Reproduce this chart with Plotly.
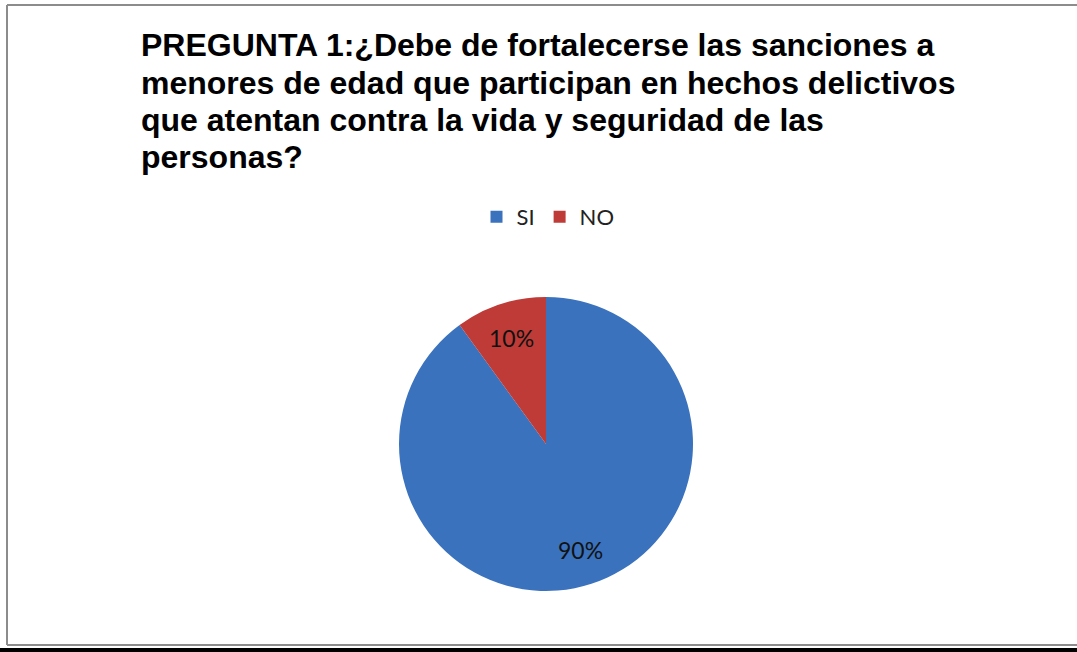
import math
import plotly.graph_objects as go

W, H = 1077, 652

labels = ["SI", "NO"]
values = [90, 10]
colors = ["#3a72bd", "#be3b37"]
title_lines = [
    "PREGUNTA 1:¿Debe de fortalecerse las sanciones a",
    "menores de edad que participan en hechos delictivos",
    "que atentan contra la vida y seguridad de las",
    "personas?",
]

def px(x):
    return x / W

def py(y):
    return 1 - y / H

cx, cy, r = 546, 444, 147

fig = go.Figure(
    go.Pie(
        labels=labels,
        values=values,
        sort=False,
        direction="clockwise",
        rotation=0,
        marker=dict(colors=colors, line=dict(width=0)),
        textinfo="none",
        domain=dict(x=[px(cx - r), px(cx + r)], y=[py(cy + r), py(cy - r)]),
        hoverinfo="label+percent",
    )
)

# percentage labels placed along each slice's mid-angle (derived from the data)
annotations = []
total = sum(values)
start = 0.0
for lab, v in zip(labels, values):
    frac = v / total
    mid = (start + frac / 2) * 2 * math.pi
    start += frac
    lx = cx + 0.76 * r * math.sin(mid)
    ly = cy - 0.76 * r * math.cos(mid)
    annotations.append(dict(
        text=f"{round(frac * 100)}%", x=px(lx), y=py(ly), xref="paper", yref="paper",
        xanchor="center", yanchor="middle", showarrow=False,
        font=dict(family="Lato, Open Sans, sans-serif", size=23, color="#111111"),
    ))

title_y = [45, 82.5, 120, 157]
for line, yy in zip(title_lines, title_y):
    annotations.append(dict(
        text=line, x=px(139), y=py(yy), xref="paper", yref="paper",
        xanchor="left", yanchor="middle", showarrow=False,
        font=dict(family="Liberation Sans, Arial, sans-serif", size=32, color="#000000", weight="bold"),
    ))

shapes = [
    dict(type="line", xref="paper", yref="paper", x0=px(7), x1=px(W + 5), y0=py(5), y1=py(5),
         line=dict(color="#8c8c8c", width=2)),
    dict(type="line", xref="paper", yref="paper", x0=px(7), x1=px(7), y0=py(5), y1=py(645),
         line=dict(color="#8c8c8c", width=2)),
    dict(type="line", xref="paper", yref="paper", x0=px(7), x1=px(W + 5), y0=py(645), y1=py(645),
         line=dict(color="#8c8c8c", width=2)),
    dict(type="rect", xref="paper", yref="paper", x0=px(0), x1=px(W + 5), y0=py(648), y1=py(H + 5),
         fillcolor="#000000", line=dict(width=0)),
]

fig.update_layout(
    width=W,
    height=H,
    margin=dict(l=0, r=0, t=0, b=0),
    paper_bgcolor="white",
    plot_bgcolor="white",
    showlegend=True,
    legend=dict(
        orientation="h",
        x=px(548),
        xanchor="center",
        y=py(217),
        yanchor="middle",
        font=dict(family="Lato, Open Sans, sans-serif", size=22, color="#222222"),
        itemwidth=30,
        traceorder="normal",
    ),
    annotations=annotations,
    shapes=shapes,
)

fig.write_html("out.html")
